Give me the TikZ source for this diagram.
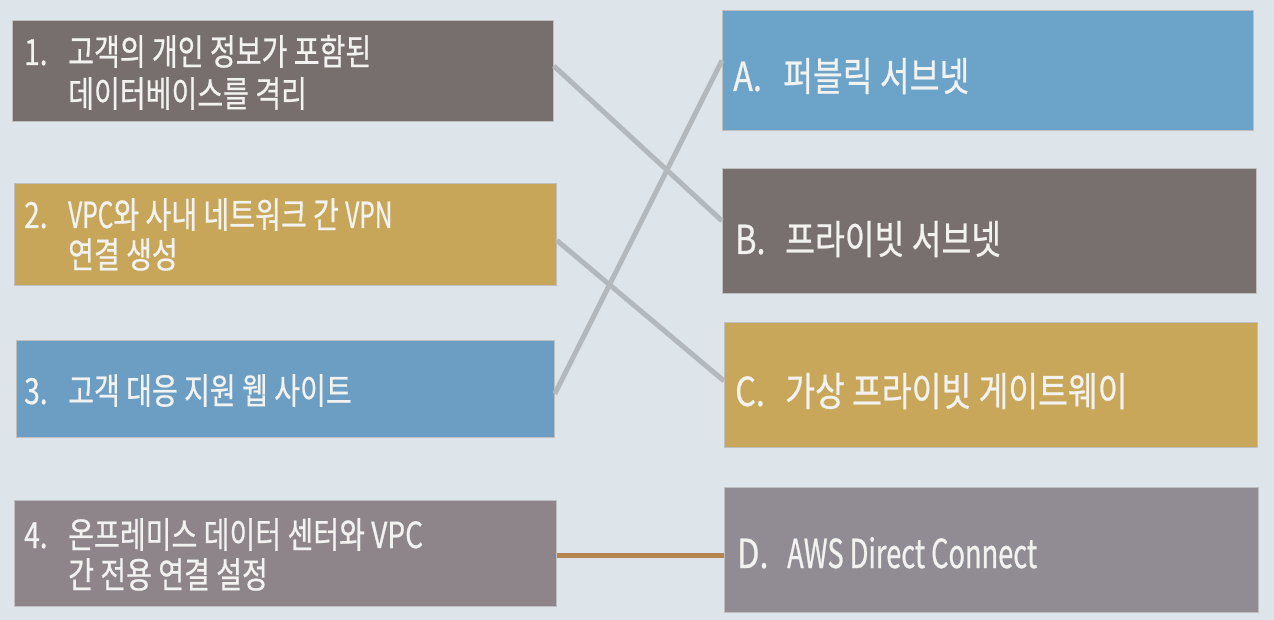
\documentclass[tikz,border=0pt]{standalone}
\usepackage{fontspec}
\setmainfont{Noto Sans CJK KR}[FakeStretch=0.78,FakeBold=0.6]
\newfontfamily\rfont{Noto Sans CJK KR}[FakeStretch=0.81,FakeBold=0.6]
\newfontfamily\latfont{Noto Sans CJK KR}[FakeStretch=0.68,FakeBold=0.6]
\definecolor{bgc}{HTML}{DDE4EA}
\definecolor{c1}{HTML}{766F6E}
\definecolor{c2}{HTML}{C7A65A}
\definecolor{c3}{HTML}{6C9EC3}
\definecolor{c4}{HTML}{8D8589}
\definecolor{cA}{HTML}{6BA3C9}
\definecolor{cB}{HTML}{78706F}
\definecolor{cC}{HTML}{C9A75A}
\definecolor{cD}{HTML}{918B93}
\definecolor{lgray}{HTML}{B3B8BD}
\definecolor{lorange}{HTML}{B5844F}
\definecolor{txtc}{HTML}{F2F2F0}
\tikzset{
  box/.style={anchor=north west, inner sep=0pt, draw=black!25, line width=0.8pt},
  ltxt/.style={anchor=base west, inner sep=0pt, text=txtc, font=\fontsize{36}{40}\selectfont},
  rtxt/.style={anchor=base west, inner sep=0pt, text=txtc, font=\rfont\fontsize{40}{44}\selectfont},
  link/.style={lgray, line width=5pt},
  linko/.style={lorange, line width=5pt}
}
\begin{document}
\begin{tikzpicture}[x=1pt,y=-1pt]
\fill[bgc] (0,0) rectangle (1274,620);
\useasboundingbox (0,0) rectangle (1274,620);
% left boxes
\node[box, fill=c1, minimum width=541pt, minimum height=101pt] (b1) at (12,20) {};
\node[box, fill=c2, minimum width=542pt, minimum height=102pt] (b2) at (14,183) {};
\node[box, fill=c3, minimum width=538pt, minimum height=97pt] (b3) at (16,340) {};
\node[box, fill=c4, minimum width=542pt, minimum height=106pt] (b4) at (14,500) {};
% right boxes
\node[box, fill=cA, minimum width=531pt, minimum height=120pt] (bA) at (722,10) {};
\node[box, fill=cB, minimum width=534pt, minimum height=125pt] (bB) at (722,168) {};
\node[box, fill=cC, minimum width=533pt, minimum height=125pt] (bC) at (724,322) {};
\node[box, fill=cD, minimum width=534pt, minimum height=125pt] (bD) at (724,487) {};
% connectors
\draw[link] ([yshift=5pt]b1.east) -- ([yshift=10pt]bB.west);
\draw[link] ([yshift=-6pt]b2.east) -- ([yshift=4pt]bC.west);
\draw[link] ([yshift=-5pt]b3.east) -- ([yshift=10pt]bA.west);
\draw[linko] ([yshift=-2pt]b4.east) -- ([yshift=-2pt]b4.east -| bD.west);
% left texts
\node[ltxt] (n1) at (24,65) {1.};
\node[ltxt] (t1a) at (68,65) {고객의 개인 정보가 포함된};
\node[ltxt] (t1b) at (68,107) {데이터베이스를 격리};
\node[ltxt] (n2) at (24,228) {2.};
\node[ltxt] (t2a) at (68,228) {{\latfont VPC}와 사내 네트워크 간 {\latfont VPN}};
\node[ltxt] (t2b) at (68,268) {연결 생성};
\node[ltxt] (n3) at (24,404) {3.};
\node[ltxt] (t3) at (68,404) {고객 대응 지원 웹 사이트};
\node[ltxt] (n4) at (24,548) {4.};
\node[ltxt] (t4a) at (68,548) {온프레미스 데이터 센터와 VPC};
\node[ltxt] (t4b) at (68,588) {간 전용 연결 설정};
% right texts
\node[rtxt] (nA) at (733,91) {A.};
\node[rtxt] (tA) at (783,91) {퍼블릭 서브넷};
\node[rtxt] (nB) at (735,254) {B.};
\node[rtxt] (tB) at (785,254) {프라이빗 서브넷};
\node[rtxt] (nC) at (735,406) {C.};
\node[rtxt] (tC) at (785,406) {가상 프라이빗 게이트웨이};
\node[rtxt] (nD) at (737,568) {D.};
\node[rtxt, font=\latfont\fontsize{40}{44}\selectfont] (tD) at (787,568) {AWS Direct Connect};
\end{tikzpicture}
\end{document}
